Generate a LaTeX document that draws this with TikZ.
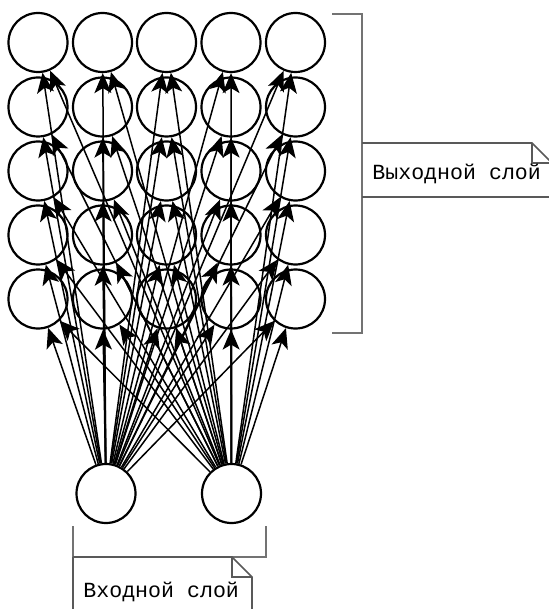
\documentclass[tikz,border=0pt]{standalone}
\usepackage{fontspec}
\setmonofont{Liberation Mono}
\usetikzlibrary{arrows.meta}
\begin{document}
\begin{tikzpicture}[x=0.5pt, y=-0.5pt,
        neuron/.style={draw, circle, line width=1.1pt, minimum size=29.5pt, inner sep=0pt},
        link/.style={line width=0.75pt, -{Stealth[length=10pt, width=8.5pt, inset=2.5pt]}},
        brace/.style={draw=black!55, line width=1pt},
        note/.style={draw=black!65, line width=0.8pt},
        lbl/.style={anchor=base west, inner sep=0pt, font=\ttfamily\fontsize{10.8}{12}\selectfont}]
    \useasboundingbox (0,0) rectangle (548,609);
    % output layer, 5 x 5
    \foreach \r/\y in {1/42.5, 2/107, 3/171, 4/235, 5/299}
        \foreach \c/\x in {1/38, 2/102.5, 3/166.5, 4/231, 5/295.5}
            \node (o-\r-\c) at (\x,\y) [neuron] {};
    % input layer
    \node (in1) at (106,493.5) [neuron] {};
    \node (in2) at (231.5,493.5) [neuron] {};
    \foreach \r in {1,...,5}
        \foreach \c in {1,...,5} {
            \draw [link] (in1) -- (o-\r-\c);
            \draw [link] (in2) -- (o-\r-\c);
        }
    % brackets and notes
    \draw [brace] (332,14) -- (362,14) -- (362,333) -- (332,333);
    \draw [note] (362,143) -- (532,143) -- (552,163) -- (552,197) -- (362,197);
    \draw [note] (532,143) -- (532,163) -- (552,163);
    \node (outlbl) at (372,180) [lbl] {Выходной слой};
    \draw [brace] (73,526) -- (73,557) -- (266,557) -- (266,526);
    \draw [note] (73,557) -- (73,615);
    \draw [note] (73,557) -- (232,557) -- (252,577) -- (252,615);
    \draw [note] (232,557) -- (232,577) -- (252,577);
    \node (inlbl) at (83,597) [lbl] {Входной слой};
\end{tikzpicture}
\end{document}
